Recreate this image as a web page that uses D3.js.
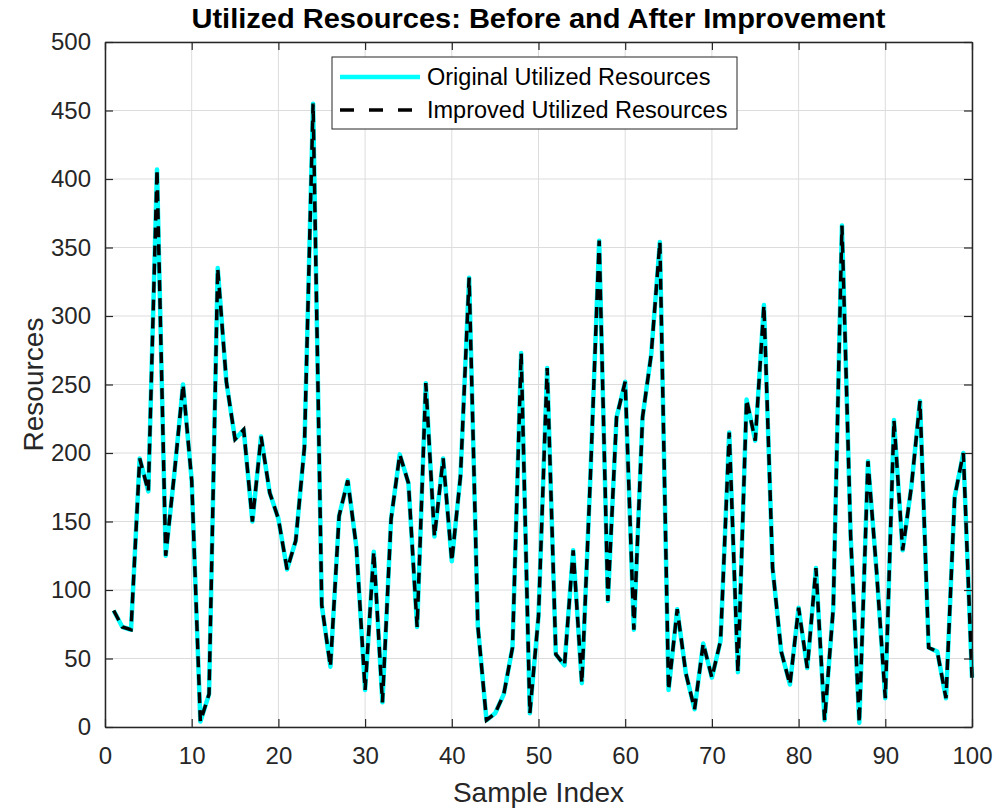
<!DOCTYPE html>
<html>
<head>
<meta charset="utf-8">
<script src="https://cdn.jsdelivr.net/npm/d3@7"></script>
<style>
  body { margin: 0; background: #fff; }
  text { font-family: "Liberation Sans", Arial, Helvetica, sans-serif; }
</style>
</head>
<body>
<div id="chart"></div>
<script>
// valores
const sampleIndex = d3.range(1, 101);
const originalResources = [
  85, 73, 71, 196, 172, 407, 125, 185, 250, 180,
  4, 24, 335, 252, 210, 217, 150, 212, 171, 152,
  115, 136, 204, 455, 89, 44, 154, 180, 131, 27,
  128, 18, 152, 199, 178, 73, 251, 139, 196, 121,
  183, 328, 74, 5, 10, 24, 58, 273, 10, 81,
  262, 53, 45, 129, 32, 185, 355, 92, 226, 252,
  71, 226, 272, 354, 27, 86, 39, 13, 61, 36,
  63, 215, 40, 239, 209, 308, 116, 55, 31, 87,
  43, 116, 5, 87, 366, 140, 3, 194, 113, 21,
  224, 129, 175, 238, 58, 55, 21, 168, 200, 36
];
const improvedResources = [
  85, 73, 71, 196, 172, 407, 125, 185, 250, 180,
  4, 24, 335, 252, 210, 217, 150, 212, 171, 152,
  115, 136, 204, 455, 89, 44, 154, 180, 131, 27,
  128, 18, 152, 199, 178, 73, 251, 139, 196, 121,
  183, 328, 74, 5, 10, 24, 58, 273, 10, 81,
  262, 53, 45, 129, 32, 185, 355, 92, 226, 252,
  71, 226, 272, 354, 27, 86, 39, 13, 61, 36,
  63, 215, 40, 239, 209, 308, 116, 55, 31, 87,
  43, 116, 5, 87, 366, 140, 3, 194, 113, 21,
  224, 129, 175, 238, 58, 55, 21, 168, 200, 36
];
const xTicks = d3.range(0, 101, 10);
const yTicks = d3.range(0, 501, 50);
const seriesNames = ["Original Utilized Resources", "Improved Utilized Resources"];

const width = 995, height = 810;
const margin = { top: 42, right: 23, bottom: 83, left: 105 };
const w = width - margin.left - margin.right;
const h = height - margin.top - margin.bottom;
const axisColor = "#262626";

const svg = d3.select("#chart").append("svg")
  .attr("width", width).attr("height", height);
const g = svg.append("g").attr("transform", `translate(${margin.left},${margin.top})`);

const x = d3.scaleLinear().domain([0, 100]).range([0, w]);
const y = d3.scaleLinear().domain([0, 500]).range([h, 0]);

// rejilla
g.append("g").selectAll("line").data(xTicks).enter().append("line")
  .attr("x1", d => x(d)).attr("x2", d => x(d))
  .attr("y1", 0).attr("y2", h)
  .attr("stroke", "#dcdcdc").attr("stroke-width", 1);
g.append("g").selectAll("line").data(yTicks).enter().append("line")
  .attr("y1", d => y(d)).attr("y2", d => y(d))
  .attr("x1", 0).attr("x2", w)
  .attr("stroke", "#dcdcdc").attr("stroke-width", 1);

// lineas
const line = d3.line().x((d, i) => x(sampleIndex[i])).y(d => y(d));
g.append("path").datum(originalResources)
  .attr("d", line).attr("fill", "none")
  .attr("stroke", "#00ffff").attr("stroke-width", 4.5)
  .attr("stroke-linejoin", "round");
g.append("path").datum(improvedResources)
  .attr("d", line).attr("fill", "none")
  .attr("stroke", "#000").attr("stroke-width", 3.5)
  .attr("stroke-dasharray", "11,7");

// ejes (ticks hacia dentro, en los cuatro lados)
function styleAxis(sel) {
  sel.select(".domain").attr("stroke", axisColor).attr("stroke-width", 1.5);
  sel.selectAll(".tick line").attr("stroke", axisColor).attr("stroke-width", 1.2);
  sel.selectAll("text").attr("fill", axisColor).style("font-size", "24px");
}
g.append("g").attr("transform", `translate(0,${h})`)
  .call(d3.axisBottom(x).tickValues(xTicks).tickSizeInner(-8).tickSizeOuter(0).tickPadding(20))
  .call(styleAxis);
g.append("g")
  .call(d3.axisLeft(y).tickValues(yTicks).tickSizeInner(-8).tickSizeOuter(0).tickPadding(14))
  .call(styleAxis);
g.append("g")
  .call(d3.axisTop(x).tickValues(xTicks).tickSizeInner(-8).tickSizeOuter(0).tickFormat(""))
  .call(styleAxis);
g.append("g").attr("transform", `translate(${w},0)`)
  .call(d3.axisRight(y).tickValues(yTicks).tickSizeInner(-8).tickSizeOuter(0).tickFormat(""))
  .call(styleAxis);

// titulo y etiquetas
svg.append("text").attr("x", margin.left + w / 2).attr("y", 28)
  .attr("text-anchor", "middle").style("font-size", "27px").style("font-weight", "bold")
  .attr("textLength", 694).attr("lengthAdjust", "spacingAndGlyphs")
  .attr("fill", "#000").text("Utilized Resources: Before and After Improvement");
svg.append("text").attr("x", margin.left + w / 2).attr("y", 802)
  .attr("text-anchor", "middle").style("font-size", "28px").attr("fill", axisColor)
  .text("Sample Index");
svg.append("text")
  .attr("transform", `translate(43,${margin.top + h / 2}) rotate(-90)`)
  .attr("text-anchor", "middle").style("font-size", "28px").attr("fill", axisColor)
  .text("Resources");

// leyenda
const legend = svg.append("g").attr("transform", "translate(332,57)");
legend.append("rect").attr("width", 405).attr("height", 72)
  .attr("fill", "#fff").attr("stroke", axisColor).attr("stroke-width", 1);
const legendStyles = [
  { stroke: "#00ffff", width: 4.5, dash: null },
  { stroke: "#000", width: 3.5, dash: "14,15" }
];
seriesNames.forEach((name, i) => {
  const yy = 20 + i * 33;
  legend.append("line").attr("x1", 8).attr("x2", 88).attr("y1", yy).attr("y2", yy)
    .attr("stroke", legendStyles[i].stroke).attr("stroke-width", legendStyles[i].width)
    .attr("stroke-dasharray", legendStyles[i].dash);
  legend.append("text").attr("x", 95).attr("y", yy + 8)
    .style("font-size", "23.5px").attr("fill", "#000").text(name);
});
</script>
</body>
</html>
